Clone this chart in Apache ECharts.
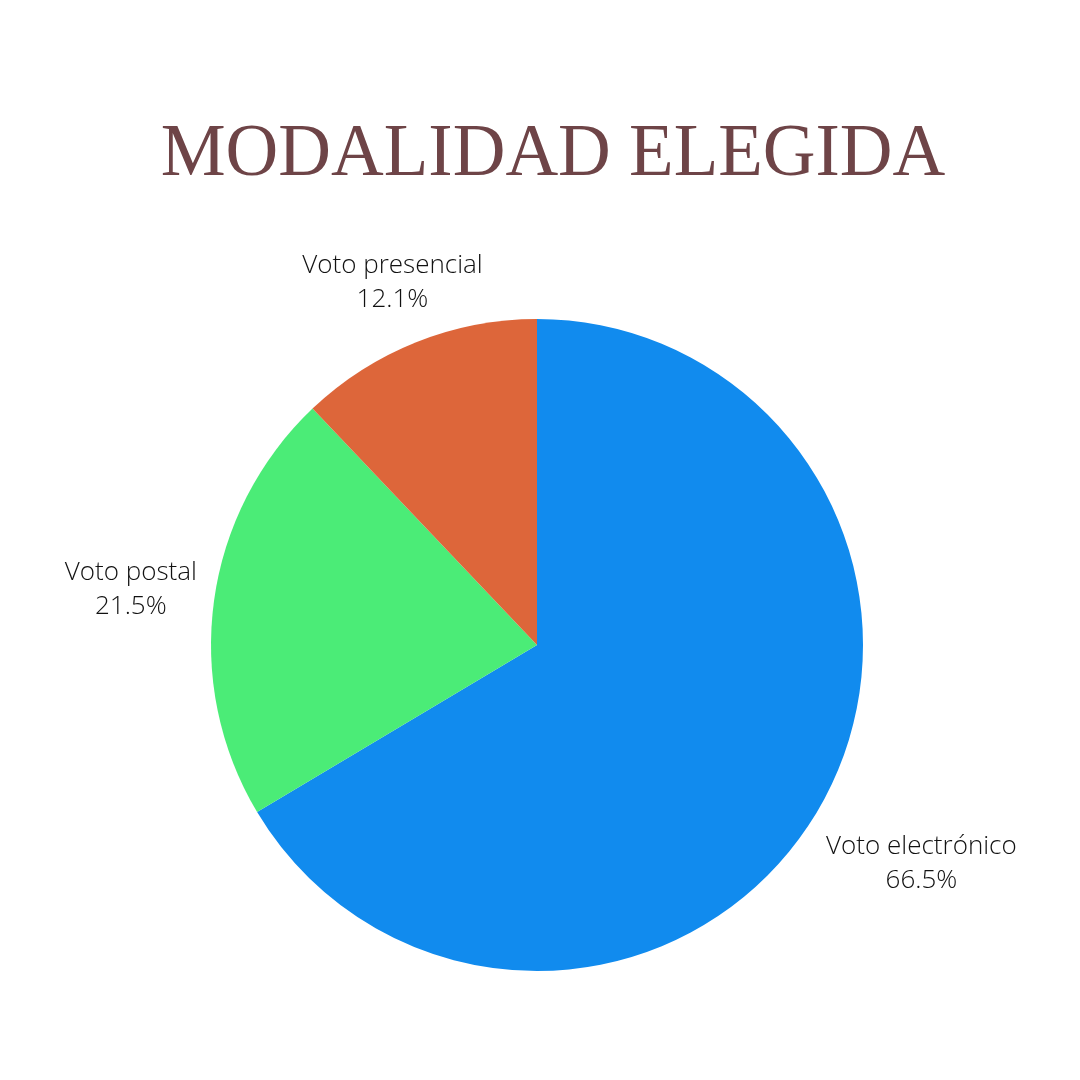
<!DOCTYPE html>
<html>
<head>
<meta charset="utf-8">
<script src="https://cdn.jsdelivr.net/npm/echarts@6/dist/echarts.min.js"></script>
<style>html,body{margin:0;padding:0;background:#fff;}#c{width:1080px;height:1080px;}</style>
</head>
<body>
<div id="c"></div>
<script>
const titleText = 'MODALIDAD ELEGIDA';
const categories = ['Voto electrónico', 'Voto postal', 'Voto presencial'];
const values = [66.5, 21.5, 12.1];
const colors = ['#118bee', '#4bec77', '#dd663a'];
const labelDistances = [116, 84, 64];

const chart = echarts.init(document.getElementById('c'), null, {renderer: 'canvas'});
chart.setOption({
  backgroundColor: '#ffffff',
  animation: false,
  graphic: [{
    type: 'text',
    style: {
      x: 553, y: 156,
      text: titleText,
      font: '73px "Liberation Serif"',
      fill: '#6e4447',
      align: 'center',
      verticalAlign: 'middle'
    }
  }],
  series: [{
    type: 'pie',
    center: [537, 645],
    radius: 326,
    startAngle: 90,
    clockwise: true,
    avoidLabelOverlap: false,
    data: categories.map((n, i) => ({
      name: n, value: values[i],
      itemStyle: {color: colors[i]},
      labelLine: {length: labelDistances[i]}
    })),
    label: {
      show: true,
      position: 'outside',
      formatter: p => p.name + '\n' + p.value + '%',
      fontFamily: 'Open Sans',
      fontWeight: 300,
      fontSize: 26,
      lineHeight: 34,
      color: '#111111'
    },
    labelLine: {show: true, length2: 0, lineStyle: {opacity: 0}},
    labelLayout: function (p) {
      const pts = p.labelLinePoints;
      if (!pts) return {};
      return {x: pts[1][0], y: pts[1][1], align: 'center', verticalAlign: 'middle'};
    },
    emphasis: {disabled: true}
  }]
});
</script>
</body>
</html>
